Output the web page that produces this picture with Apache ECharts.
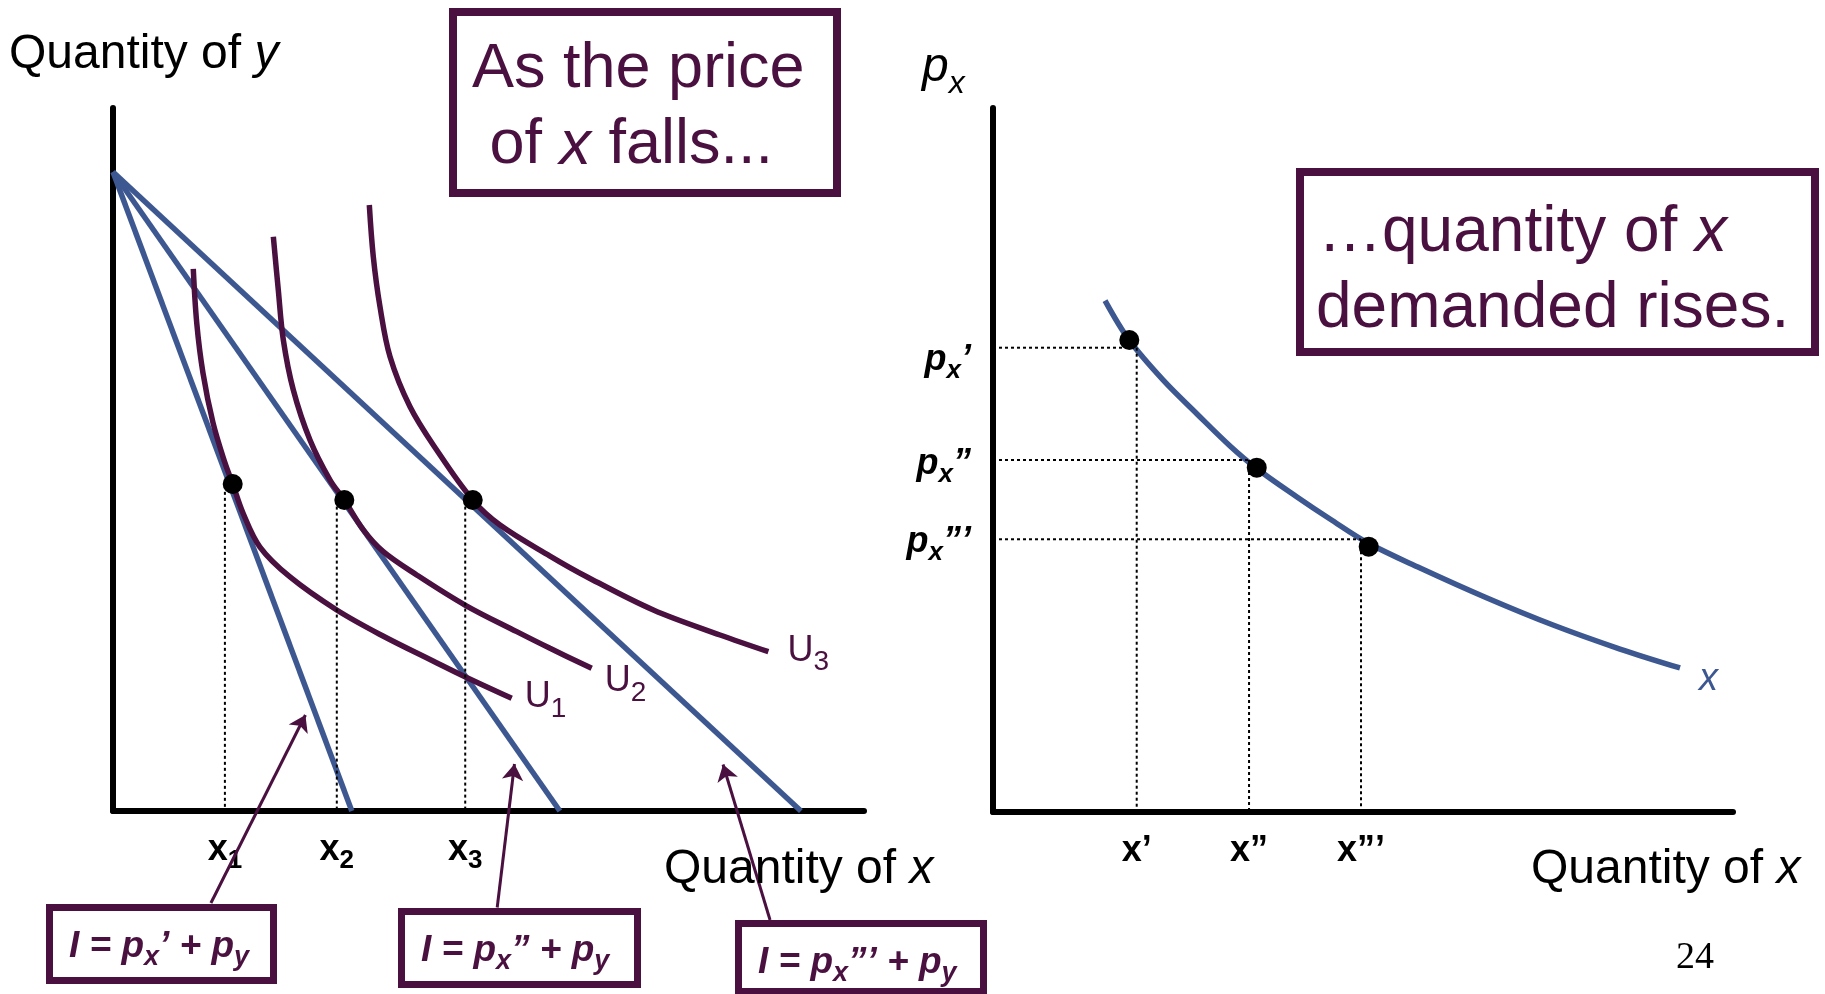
<!DOCTYPE html>
<html>
<head>
<meta charset="utf-8">
<script src="https://cdn.jsdelivr.net/npm/echarts@6/dist/echarts.min.js"></script>
<style>
  html, body { margin: 0; background: #fff; }
  #chart { width: 1825px; height: 994px; }
</style>
</head>
<body>
<div id="chart"></div>
<script>
// ---- left panel: indifference map (axis units 0-100) ----
const budgetYIntercept = 90.9;
const budgetXIntercepts = [31.8, 59.5, 91.6];
const curveU1 = [[10.69, 77.10], [11.15, 69.42], [11.98, 62.31], [13.32, 55.20], [14.91, 49.51], [15.94, 46.52], [17.31, 42.39], [19.57, 37.55], [23.57, 33.29], [29.79, 28.59], [35.95, 24.89], [42.61, 21.34], [46.87, 19.10], [53.09, 16.03]];
const curveU2 = [[21.35, 81.69], [22.01, 74.11], [22.68, 67.00], [24.01, 59.89], [26.23, 52.77], [28.90, 47.08], [30.80, 44.24], [33.33, 39.98], [35.99, 36.89], [40.44, 33.58], [46.87, 29.30], [53.76, 25.51], [58.19, 23.14], [63.74, 20.30]];
const curveU3 = [[34.13, 86.20], [34.66, 78.85], [35.55, 71.74], [36.89, 64.62], [39.55, 57.51], [43.10, 51.35], [47.90, 44.24], [51.53, 40.68], [58.19, 36.27], [63.08, 33.33], [71.95, 28.59], [80.83, 25.04], [87.27, 22.66]];
const curveNames = [['U', '1'], ['U', '2'], ['U', '3']];
const optimumPoints = [[15.94, 46.52], [30.80, 44.24], [47.90, 44.24]];
const leftGuideX = [14.9, 29.8, 46.9];
const leftGuideTop = [45.4, 43.3, 43.3];
const leftTickLabels = [['x', '1'], ['x', '2'], ['x', '3']];
const arrowTails = [[13.04, -13.09], [51.16, -13.73], [87.49, -15.50]];
const arrowTips = [[25.62, 13.66], [53.46, 6.69], [81.23, 6.61]];

// ---- right panel: demand curve (axis units 0-100) ----
const demandCurve = [[15.14, 72.63], [18.38, 67.05], [22.97, 61.37], [27.57, 56.54], [32.03, 51.99], [35.54, 48.87], [41.08, 44.75], [45.54, 41.62], [50.68, 38.21], [57.71, 34.66], [66.76, 30.40], [75.68, 26.56], [84.73, 23.15], [92.84, 20.46]];
const demandPoints = [[18.42, 67.05], [35.64, 48.91], [50.77, 37.69]];
const priceGuides = [65.95, 50.0, 38.74];
const qtyGuides = [19.42, 34.6, 49.73];
const priceLabelY = [63.6, 48.9, 37.8];
const priceTickLabels = [['p', 'x', '\u2019'], ['p', 'x', '\u201d'], ['p', 'x', '\u201d\u2019']];
const qtyTickLabels = ['x\u2019', 'x\u201d', 'x\u201d\u2019'];

const FONT = '"Liberation Sans", Arial, Helvetica, sans-serif';
const PURPLE = '#4a1040';
const BLUE = '#3d5891';

function richSet(size, subSize, color, weight, italic, drop) {
  const base = { color: color, fill: color, fontFamily: FONT, fontWeight: weight };
  return {
    m: Object.assign({}, base, { fontSize: size, fontStyle: italic ? 'italic' : 'normal', lineHeight: size + 4, padding: [0, 0, drop, 0], verticalAlign: 'bottom' }),
    i: Object.assign({}, base, { fontSize: size, fontStyle: 'italic', lineHeight: size + 4, padding: [0, 0, drop, 0], verticalAlign: 'bottom' }),
    s: Object.assign({}, base, { fontSize: subSize, fontStyle: italic ? 'italic' : 'normal', lineHeight: subSize, verticalAlign: 'bottom' })
  };
}

const dotted = { color: '#000', width: 2, type: [3, 3] };

function axis(gridIndex, labelCfg) {
  return {
    type: 'value', gridIndex: gridIndex, min: 0, max: 100,
    axisLine: { show: true, onZero: false, lineStyle: { color: '#000', width: 6 } },
    axisTick: { show: false },
    splitLine: { show: false },
    axisLabel: labelCfg || { show: false }
  };
}

const series = [];

budgetXIntercepts.forEach(function (xi) {
  series.push({
    type: 'line', xAxisIndex: 0, yAxisIndex: 0, symbol: 'none',
    lineStyle: { color: BLUE, width: 5.5 },
    data: [[0, budgetYIntercept], [xi, 0]]
  });
});

const uOffsets = [[13, 5], [13, 19], [19, 5]];
[curveU1, curveU2, curveU3].forEach(function (c, i) {
  series.push({
    type: 'line', xAxisIndex: 0, yAxisIndex: 0, symbol: 'none', smooth: 0.35,
    lineStyle: { color: PURPLE, width: 5.5 },
    data: c,
    endLabel: {
      show: true, distance: 0, offset: uOffsets[i],
      formatter: '{m|' + curveNames[i][0] + '}{s|' + curveNames[i][1] + '}',
      rich: richSet(36, 28, PURPLE, 'normal', false, 8)
    }
  });
});

leftGuideX.forEach(function (x, i) {
  series.push({
    type: 'line', xAxisIndex: 0, yAxisIndex: 0, symbol: 'none',
    lineStyle: dotted, data: [[x, leftGuideTop[i]], [x, 0]]
  });
});

series.push({
  type: 'scatter', xAxisIndex: 0, yAxisIndex: 0, symbolSize: 20,
  itemStyle: { color: '#000', opacity: 1 }, data: optimumPoints, z: 5
});

series.push({
  type: 'lines', coordinateSystem: 'cartesian2d', xAxisIndex: 0, yAxisIndex: 0,
  clip: false, symbol: ['none', 'arrow'], symbolSize: 16,
  lineStyle: { color: PURPLE, width: 3, opacity: 1, curveness: 0 },
  data: arrowTails.map(function (t, i) { return { coords: [t, arrowTips[i]] }; })
});

series.push({
  type: 'line', xAxisIndex: 1, yAxisIndex: 1, symbol: 'none', smooth: 0.35,
  lineStyle: { color: BLUE, width: 5.5 },
  data: demandCurve,
  endLabel: {
    show: true, distance: 0, offset: [19, 11], formatter: 'x',
    color: BLUE, fontFamily: FONT, fontStyle: 'italic', fontSize: 38
  }
});

qtyGuides.forEach(function (x, i) {
  series.push({
    type: 'line', xAxisIndex: 1, yAxisIndex: 1, symbol: 'none',
    lineStyle: dotted, data: [[0, priceGuides[i]], [x, priceGuides[i]]]
  });
  series.push({
    type: 'line', xAxisIndex: 1, yAxisIndex: 1, symbol: 'none',
    lineStyle: dotted, data: [[x, priceGuides[i]], [x, 0]]
  });
});

series.push({
  type: 'scatter', xAxisIndex: 1, yAxisIndex: 1, symbolSize: 20,
  itemStyle: { color: '#000', opacity: 1 }, data: demandPoints, z: 5
});

function txt(x, y, text, size, color, extra) {
  return {
    type: 'text', x: x, y: y, z: 10,
    style: Object.assign({
      text: text, fontSize: size, fontFamily: FONT, fill: color,
      align: 'left', verticalAlign: 'middle'
    }, extra || {})
  };
}

function box(x0, y0, x1, y1, w) {
  return {
    type: 'rect', z: 9,
    shape: { x: x0 + w / 2, y: y0 + w / 2, width: x1 - x0 - w, height: y1 - y0 - w },
    style: { fill: 'none', stroke: PURPLE, lineWidth: w }
  };
}

function italicRich(size, color) {
  return { i: { fontSize: size, fontFamily: FONT, fontStyle: 'italic', fill: color } };
}

const formulaRich = richSet(37, 27, PURPLE, 'bold', true, 6);
function formula(x, y, mark) {
  return txt(x, y, '{m|I = p}{s|x}{m|' + mark + ' + p}{s|y}', 37, PURPLE,
    { fontWeight: 'bold', fontStyle: 'italic', rich: formulaRich });
}

const graphic = [
  txt(9, 55, 'Quantity of {i|y}', 48, '#000', { rich: italicRich(48, '#000') }),
  txt(922, 74, '{m|p}{s|x}', 48, '#000', {
    rich: {
      m: { fontSize: 48, fontFamily: FONT, fontStyle: 'italic', fill: '#000', lineHeight: 52, padding: [0, 0, 8, 0], verticalAlign: 'bottom' },
      s: { fontSize: 32, fontFamily: FONT, fontStyle: 'italic', fill: '#000', lineHeight: 32, verticalAlign: 'bottom' }
    }
  }),
  txt(664, 870, 'Quantity of {i|x}', 48, '#000', { rich: italicRich(48, '#000') }),
  txt(1531, 870, 'Quantity of {i|x}', 48, '#000', { rich: italicRich(48, '#000') }),
  box(449, 8, 841, 197, 8),
  txt(472, 70, 'As the price', 63, PURPLE),
  txt(472, 146, ' of {i|x} falls...', 63, PURPLE, { rich: italicRich(63, PURPLE) }),
  box(1296, 168, 1819, 356, 8),
  txt(1318, 233, '\u2026quantity of {i|x}', 64, PURPLE, { rich: italicRich(64, PURPLE) }),
  txt(1316, 309, 'demanded rises.', 64, PURPLE),
  box(46, 904, 277, 984, 7),
  formula(69, 951, '\u2019'),
  box(398, 908, 641, 988, 7),
  formula(421, 955, '\u201d'),
  box(735, 920, 987, 995, 7),
  formula(758, 967, '\u201d\u2019'),
  txt(1676, 958, '24', 38, '#000', { fontFamily: '"Liberation Serif", "Times New Roman", serif' })
];

const option = {
  animation: false,
  backgroundColor: '#fff',
  grid: [
    { left: 113, top: 108, width: 751, height: 703 },
    { left: 993, top: 108, width: 740, height: 704 }
  ],
  xAxis: [
    axis(0, {
      show: true, customValues: leftGuideX, margin: 23,
      formatter: function (v) {
        const k = leftGuideX.indexOf(v);
        return k < 0 ? '' : '{m|' + leftTickLabels[k][0] + '}{s|' + leftTickLabels[k][1] + '}';
      },
      rich: richSet(36, 26, '#000', 'bold', false, 6)
    }),
    axis(1, {
      show: true, customValues: qtyGuides, margin: 23,
      formatter: function (v) {
        const k = qtyGuides.indexOf(v);
        return k < 0 ? '' : '{m|' + qtyTickLabels[k] + '}';
      },
      rich: richSet(36, 26, '#000', 'bold', false, 6)
    })
  ],
  yAxis: [
    axis(0),
    axis(1, {
      show: true, customValues: priceLabelY, margin: 22,
      formatter: function (v) {
        const k = priceLabelY.indexOf(v);
        if (k < 0) return '';
        const t = priceTickLabels[k];
        return '{m|' + t[0] + '}{s|' + t[1] + '}{m|' + t[2] + '}';
      },
      rich: richSet(36, 26, '#000', 'bold', true, 6)
    })
  ],
  series: series,
  graphic: graphic
};

const chart = echarts.init(document.getElementById('chart'));
chart.setOption(option);
</script>
</body>
</html>
